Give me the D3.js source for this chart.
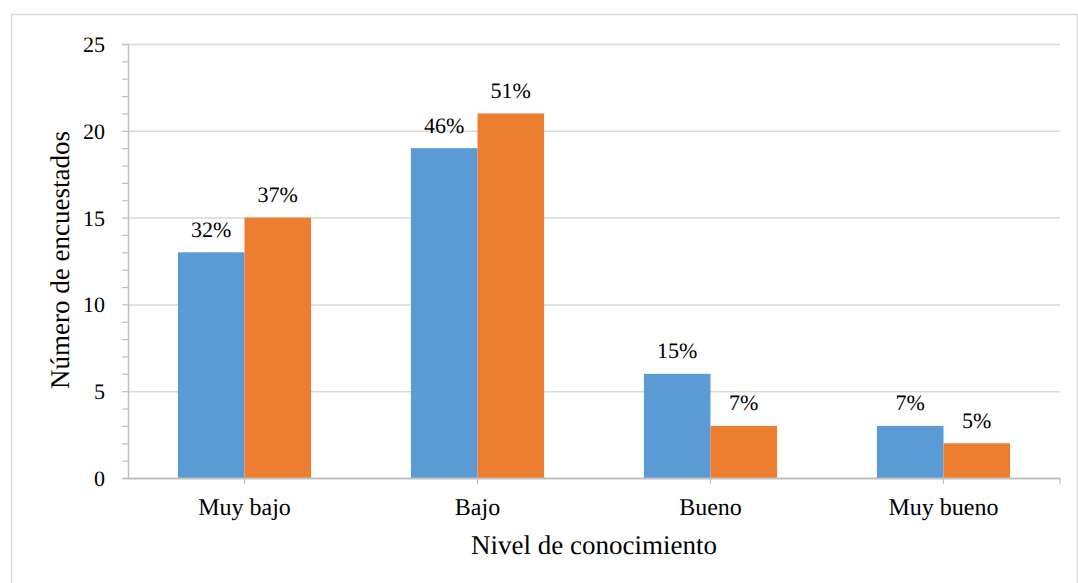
<!DOCTYPE html>
<html>
<head>
<meta charset="utf-8">
<script src="https://cdn.jsdelivr.net/npm/d3@7"></script>
</head>
<body style="margin:0;padding:0;background:#fff">
<svg id="chart" width="1078" height="583" style="text-rendering:geometricPrecision"></svg>
<script>
// Survey results by knowledge level
const categories = ["Muy bajo", "Bajo", "Bueno", "Muy bueno"];
const seriesA = [13, 19, 6, 3];
const seriesB = [15, 21, 3, 2];
const labelsA = ["32%", "46%", "15%", "7%"];
const labelsB = ["37%", "51%", "7%", "5%"];
const yTicks = [0, 5, 10, 15, 20, 25];
const colors = ["#5B9BD5", "#ED7D31"];

const FONT = "'Liberation Serif', 'Times New Roman', serif";
const svg = d3.select("#chart");
const m = { left: 128, right: 1060, top: 44, bottom: 478 };

// outer frame
svg.append("rect")
  .attr("x", 11.5).attr("y", 14.5)
  .attr("width", 1066).attr("height", 600)
  .attr("fill", "none").attr("stroke", "#d9d9d9").attr("stroke-width", 1.5);

const x = d3.scaleBand().domain(categories).range([m.left, m.right]).paddingInner(0).paddingOuter(0);
const y = d3.scaleLinear().domain([0, 25]).range([m.bottom, m.top]);

// gridlines
svg.append("g").selectAll("line").data(yTicks.filter(d => d > 0)).join("line")
  .attr("x1", m.left).attr("x2", m.right)
  .attr("y1", d => y(d) + 0.5).attr("y2", d => y(d) + 0.5)
  .attr("stroke", "#d9d9d9").attr("stroke-width", 1.5);

// bars (gap width 150%)
const barW = x.bandwidth() / 3.5;
const series = [
  { values: seriesA, labels: labelsA, color: colors[0], off: -barW },
  { values: seriesB, labels: labelsB, color: colors[1], off: 0 }
];
const center = c => x(c) + x.bandwidth() / 2;

series.forEach(s => {
  const g = svg.append("g");
  g.selectAll("rect").data(categories).join("rect")
    .attr("x", c => center(c) + s.off)
    .attr("width", barW)
    .attr("y", (c, i) => y(s.values[i]))
    .attr("height", (c, i) => y(0) - y(s.values[i]))
    .attr("fill", s.color);
  g.selectAll("text").data(categories).join("text")
    .attr("x", c => center(c) + s.off + barW / 2)
    .attr("y", (c, i) => y(s.values[i]) - 15.5)
    .attr("text-anchor", "middle")
    .style("font-family", FONT)
    .style("font-size", "22px")
    .style("fill", "#000")
    .text((c, i) => s.labels[i]);
});

// y axis with minor ticks every unit
const yAxis = d3.axisLeft(y)
  .tickValues(d3.range(0, 26, 1))
  .tickSize(6)
  .tickFormat(d => (d % 5 === 0 ? d : ""));
const yg = svg.append("g").attr("transform", `translate(${m.left},0)`).call(yAxis);
yg.select(".domain").attr("stroke", "#bfbfbf").attr("stroke-width", 1.5);
yg.selectAll(".tick line").attr("stroke", "#bfbfbf").attr("stroke-width", 1.2);
yg.selectAll(".tick text")
  .attr("x", -23)
  .attr("dy", "0.34em")
  .style("font-family", FONT)
  .style("font-size", "22px")
  .style("fill", "#000");

// x axis
const xg = svg.append("g").attr("transform", `translate(0,${m.bottom})`);
xg.append("line")
  .attr("x1", m.left).attr("x2", m.right)
  .attr("y1", 0.5).attr("y2", 0.5)
  .attr("stroke", "#bfbfbf").attr("stroke-width", 2);
xg.selectAll("line.tk").data(categories.map(center).concat([m.right])).join("line")
  .attr("class", "tk")
  .attr("x1", d => d).attr("x2", d => d)
  .attr("y1", 0).attr("y2", 6)
  .attr("stroke", "#bfbfbf").attr("stroke-width", 1.2);
xg.selectAll("text").data(categories).join("text")
  .attr("x", center)
  .attr("y", 37)
  .attr("text-anchor", "middle")
  .style("font-family", FONT)
  .style("font-size", "24px")
  .style("fill", "#000")
  .text(d => d);

// axis titles
svg.append("text")
  .attr("x", 594)
  .attr("y", 554)
  .attr("text-anchor", "middle")
  .style("font-family", FONT)
  .style("font-size", "27px")
  .style("fill", "#000")
  .text("Nivel de conocimiento");

svg.append("text")
  .attr("transform", `translate(69,260) rotate(-90)`)
  .attr("text-anchor", "middle")
  .style("font-family", FONT)
  .style("font-size", "27px")
  .style("fill", "#000")
  .text("Número de encuestados");
</script>
</body>
</html>
